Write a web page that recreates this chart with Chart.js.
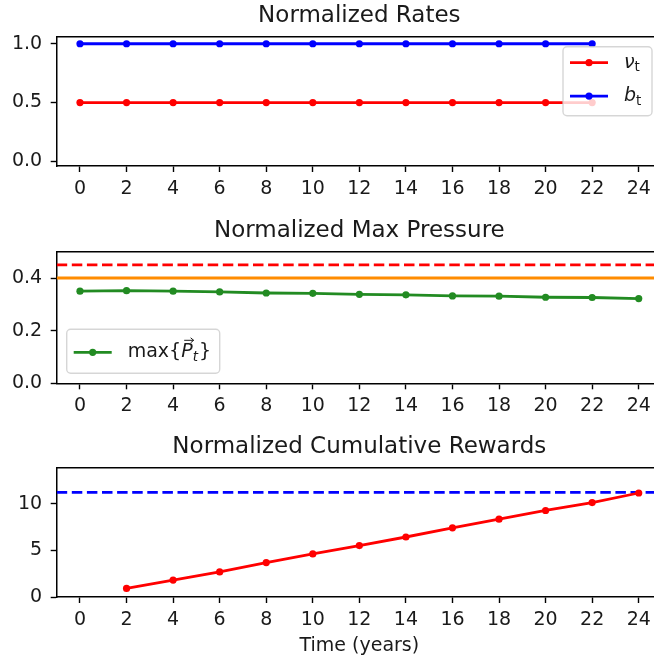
<!DOCTYPE html>
<html>
<head>
<meta charset="utf-8">
<script src="https://cdn.jsdelivr.net/npm/chart.js@4.4.1/dist/chart.umd.min.js"></script>
<style>
  html, body { margin: 0; padding: 0; background: #fff; overflow: hidden; }
  body { width: 654px; height: 662px; position: relative; }
  canvas { position: absolute; left: 0; }
</style>
</head>
<body>
<canvas id="rates" width="680" height="215" style="top:0"></canvas>
<canvas id="pressure" width="680" height="215" style="top:215px"></canvas>
<canvas id="rewards" width="680" height="231" style="top:431px"></canvas>
<script>
// values
const years = [0, 2, 4, 6, 8, 10, 12, 14, 16, 18, 20, 22, 24];
const rateYears = [0, 2, 4, 6, 8, 10, 12, 14, 16, 18, 20, 22];
const nuRates = [0.5, 0.5, 0.5, 0.5, 0.5, 0.5, 0.5, 0.5, 0.5, 0.5, 0.5, 0.5];
const bRates = [1.0, 1.0, 1.0, 1.0, 1.0, 1.0, 1.0, 1.0, 1.0, 1.0, 1.0, 1.0];
const maxPressure = [0.350, 0.352, 0.350, 0.347, 0.343, 0.342, 0.338, 0.336, 0.332, 0.331, 0.327, 0.326, 0.322];
const pressureLimit = 0.45;
const pressureTarget = 0.40;
const rewardYears = [2, 4, 6, 8, 10, 12, 14, 16, 18, 20, 22, 24];
const cumulativeRewards = [0.92, 1.82, 2.70, 3.70, 4.63, 5.53, 6.45, 7.44, 8.37, 9.30, 10.15, 11.18];
const rewardMax = 11.25;

const xTicks = [0, 2, 4, 6, 8, 10, 12, 14, 16, 18, 20, 22, 24];
const ratesTicks = [0, 0.5, 1.0];
const pressureTicks = [0, 0.2, 0.4];
const rewardTicks = [0, 5, 10];
const xRange = [-1, 25];

const FONT = 'DejaVu Sans';
const TEXT = '#1a1a1a';

function pts(xs, ys) {
  return xs.map((x, i) => ({ x: x, y: ys[i] }));
}

function series(label, xs, ys, color) {
  return {
    label: label,
    data: pts(xs, ys),
    borderColor: color,
    backgroundColor: color,
    borderWidth: 2.8,
    pointRadius: 3.6,
    pointBorderWidth: 0,
    pointBackgroundColor: color,
  };
}

function hline(label, y, color, dashed) {
  return {
    label: label,
    data: pts(xRange, [y, y]),
    borderColor: color,
    borderWidth: 2.8,
    borderDash: dashed ? [10.5, 4.6] : [],
    pointRadius: 0,
  };
}

// top / right spines like matplotlib
const frame = {
  id: 'frame',
  afterDatasetsDraw(chart) {
    const { ctx, chartArea: a } = chart;
    ctx.save();
    ctx.strokeStyle = '#000';
    ctx.lineWidth = 1.5;
    ctx.beginPath();
    ctx.moveTo(a.left, a.top);
    ctx.lineTo(a.right, a.top);
    ctx.lineTo(a.right, a.bottom);
    ctx.stroke();
    ctx.restore();
  }
};

// framed legend with math-like labels
const mathLegend = {
  id: 'mathLegend',
  afterDatasetsDraw(chart, args, opts) {
    if (!opts.items) return;
    const { ctx, chartArea: a } = chart;
    const x = opts.corner === 'upperRight' ? a.right - opts.inset - opts.width : a.left + opts.inset;
    const y = opts.corner === 'upperRight' ? a.top + opts.inset : a.bottom - opts.inset - opts.height;
    ctx.save();
    ctx.beginPath();
    ctx.roundRect(x, y, opts.width, opts.height, 4);
    ctx.fillStyle = 'rgba(255,255,255,0.8)';
    ctx.fill();
    ctx.strokeStyle = 'rgba(204,204,204,0.8)';
    ctx.lineWidth = 1.4;
    ctx.stroke();

    opts.items.forEach((item, i) => {
      const ds = chart.data.datasets[item.dataset];
      const rowY = y + opts.firstRow + i * opts.rowGap;
      ctx.strokeStyle = ds.borderColor;
      ctx.lineWidth = ds.borderWidth;
      ctx.beginPath();
      ctx.moveTo(x + 7, rowY);
      ctx.lineTo(x + 45, rowY);
      ctx.stroke();
      ctx.fillStyle = ds.borderColor;
      ctx.beginPath();
      ctx.arc(x + 26, rowY, ds.pointRadius, 0, Math.PI * 2);
      ctx.fill();

      let tx = x + 61;
      ctx.fillStyle = TEXT;
      ctx.textBaseline = 'middle';
      ctx.textAlign = 'left';
      item.parts.forEach(p => {
        const size = p.sub ? 13.5 : 19;
        ctx.font = (p.italic ? 'italic ' : '') + size + 'px "' + FONT + '"';
        const dy = p.sub ? 5 : 0;
        ctx.fillText(p.text, tx, rowY + dy);
        const w = ctx.measureText(p.text).width;
        if (p.arrow) {
          const ay = rowY - 12;
          ctx.strokeStyle = TEXT;
          ctx.lineWidth = 1;
          ctx.beginPath();
          ctx.moveTo(tx + 3, ay);
          ctx.lineTo(tx + w + 1, ay);
          ctx.moveTo(tx + w - 2, ay - 2.5);
          ctx.lineTo(tx + w + 1, ay);
          ctx.lineTo(tx + w - 2, ay + 2.5);
          ctx.stroke();
        }
        tx += w + (p.gap || 0);
      });
    });
    ctx.restore();
  }
};

function makeOptions(cfg) {
  return {
    responsive: false,
    animation: false,
    events: [],
    layout: { padding: { left: 0, right: 18, top: 0, bottom: 0 } },
    plugins: {
      legend: { display: false },
      tooltip: { enabled: false },
      title: {
        display: true,
        text: cfg.title,
        fullSize: false,
        color: TEXT,
        font: { family: FONT, size: 23, weight: 'normal', lineHeight: 1.2 },
        padding: { top: 2.4, bottom: 6.7 },
      },
      mathLegend: cfg.legend || {},
    },
    scales: {
      x: {
        type: 'linear',
        min: xRange[0],
        max: xRange[1],
        afterBuildTicks: axis => { axis.ticks = xTicks.map(v => ({ value: v })); },
        afterFit: axis => { axis.height = cfg.xAxisHeight; },
        ticks: {
          color: TEXT,
          font: { family: FONT, size: 19 },
          padding: 5.4,
          maxRotation: 0,
          autoSkip: false,
          callback: v => String(v),
        },
        grid: { drawOnChartArea: false, drawTicks: true, tickLength: 6, tickColor: '#000', tickWidth: 1.4 },
        border: { display: true, color: '#000', width: 1.5 },
        title: cfg.xTitle ? {
          display: true,
          text: cfg.xTitle,
          color: TEXT,
          font: { family: FONT, size: 19, lineHeight: 1.2 },
          padding: { top: 0, bottom: 4.6 },
        } : { display: false },
      },
      y: {
        type: 'linear',
        min: cfg.yMin,
        max: cfg.yMax,
        afterBuildTicks: axis => { axis.ticks = cfg.yTicks.map(v => ({ value: v })); },
        afterFit: axis => { axis.width = 56.7; },
        ticks: {
          color: TEXT,
          font: { family: FONT, size: 19 },
          padding: 8.5,
          callback: v => cfg.yDecimals ? v.toFixed(cfg.yDecimals) : String(v),
        },
        grid: { drawOnChartArea: false, drawTicks: true, tickLength: 6, tickColor: '#000', tickWidth: 1.4 },
        border: { display: true, color: '#000', width: 1.5 },
      },
    },
  };
}

new Chart(document.getElementById('rates'), {
  type: 'line',
  data: {
    datasets: [
      series('νₜ', rateYears, nuRates, '#ff0000'),
      series('bₜ', rateYears, bRates, '#0000ff'),
    ],
  },
  options: makeOptions({
    title: 'Normalized Rates',
    yMin: -0.04, yMax: 1.06, yTicks: ratesTicks, yDecimals: 1,
    xAxisHeight: 49,
    legend: {
      corner: 'upperRight', inset: 10, width: 89, height: 69,
      firstRow: 16, rowGap: 33.4,
      items: [
        { dataset: 0, parts: [{ text: 'ν', italic: true }, { text: 't', sub: true }] },
        { dataset: 1, parts: [{ text: 'b', italic: true }, { text: 't', sub: true }] },
      ],
    },
  }),
  plugins: [frame, mathLegend],
});

new Chart(document.getElementById('pressure'), {
  type: 'line',
  data: {
    datasets: [
      series('max{P⃗ₜ}', years, maxPressure, '#228b22'),
      hline('limit', pressureLimit, '#ff0000', true),
      hline('target', pressureTarget, '#ff8c00', false),
    ],
  },
  options: makeOptions({
    title: 'Normalized Max Pressure',
    yMin: 0, yMax: 0.5, yTicks: pressureTicks, yDecimals: 1,
    xAxisHeight: 46.7,
    legend: {
      corner: 'lowerLeft', inset: 10, width: 153, height: 44,
      firstRow: 23, rowGap: 0,
      items: [
        { dataset: 0, parts: [{ text: 'max{' }, { text: 'P', italic: true, arrow: true }, { text: 't', italic: true, sub: true, gap: 1 }, { text: '}' }] },
      ],
    },
  }),
  plugins: [frame, mathLegend],
});

new Chart(document.getElementById('rewards'), {
  type: 'line',
  data: {
    datasets: [
      series('cumulative reward', rewardYears, cumulativeRewards, '#ff0000'),
      hline('max reward', rewardMax, '#0000ff', true),
    ],
  },
  options: makeOptions({
    title: 'Normalized Cumulative Rewards',
    yMin: 0, yMax: 13.9, yTicks: rewardTicks, yDecimals: 0,
    xAxisHeight: 65,
    xTitle: 'Time (years)',
  }),
  plugins: [frame, mathLegend],
});
</script>
</body>
</html>
